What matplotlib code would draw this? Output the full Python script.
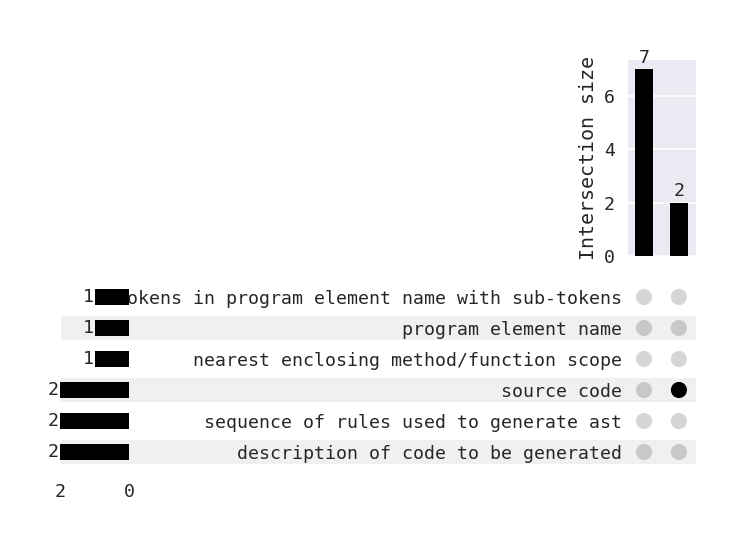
import matplotlib.pyplot as plt
import matplotlib.patches as mpatches

# rows listed bottom -> top
categories = [
    "description of code to be generated",
    "sequence of rules used to generate ast",
    "source code",
    "nearest enclosing method/function scope",
    "program element name",
    "tokens in program element name with sub-tokens",
]
set_totals = [2, 2, 2, 1, 1, 1]
intersection_sizes = [7, 2]
# membership per intersection (index into categories)
memberships = [[], ["source code"]]

W, H = 755, 533
plt.rcParams["font.family"] = ["DejaVu Sans Mono"]
text_color = "#262626"
fig = plt.figure(figsize=(W / 100, H / 100), dpi=100)


def px_axes(x0, y0, x1, y1):
    # pixel box (top-left origin) -> figure axes
    return fig.add_axes([x0 / W, 1 - y1 / H, (x1 - x0) / W, (y1 - y0) / H])


row_top, row_step = 297, 31
n_rows = len(categories)
mat_y0 = row_top - row_step / 2
mat_y1 = row_top + (n_rows - 1) * row_step + row_step / 2

# shading stripes for alternate rows
for i in range(0, n_rows, 2):
    yc = row_top + (n_rows - 1 - i) * row_step
    rect = mpatches.Rectangle((61 / W, 1 - (yc + 12) / H), (696 - 61) / W, 24 / H,
                              transform=fig.transFigure, facecolor="#f0f0f0",
                              edgecolor="none", zorder=-1)
    fig.patches.append(rect)

# intersection bars
ax_bar = px_axes(628, 60, 696, 256)
ax_bar.set_facecolor("#EAEAF2")
xs = list(range(len(intersection_sizes)))
ax_bar.bar(xs, intersection_sizes, width=0.5, color="black", zorder=3)
for x, v in zip(xs, intersection_sizes):
    ax_bar.text(x, v + 0.1, str(v), ha="center", va="bottom", fontsize=13.15, color=text_color)
ax_bar.set_xlim(-0.46, 1.49)
ax_bar.set_ylim(0, 7.35)
ax_bar.set_yticks([0, 2, 4, 6])
ax_bar.set_xticks([])
ax_bar.grid(axis="y", color="white", linewidth=1.2, zorder=0)
ax_bar.set_axisbelow(True)
for s in ax_bar.spines.values():
    s.set_visible(False)
ax_bar.tick_params(axis="y", length=0, pad=9.5, labelsize=13.15, labelcolor=text_color)
ax_bar.set_ylabel("Intersection size", fontsize=14.4, color=text_color, labelpad=4)

# matrix of dots
ax_mat = px_axes(628, mat_y0, 696, mat_y1)
ax_mat.patch.set_alpha(0)
ax_mat.set_xlim(-0.46, 1.49)
ax_mat.set_ylim(-0.5, n_rows - 0.5)
for x, members in enumerate(memberships):
    for i, cat in enumerate(categories):
        if cat in members:
            c = "black"
        else:
            c = "#c8c8c8" if i % 2 == 0 else "#d6d6d6"
        ax_mat.scatter(x, i, s=135, color=c, edgecolors="none", zorder=3)
ax_mat.set_yticks(range(n_rows))
ax_mat.set_yticklabels(categories)
ax_mat.set_xticks([])
ax_mat.tick_params(axis="y", length=0, pad=4.2, labelsize=13.15, labelcolor=text_color)
for s in ax_mat.spines.values():
    s.set_visible(False)

# set totals (drawn over the long row label, as in the original)
ax_tot = px_axes(60, mat_y0, 129, mat_y1)
ax_tot.patch.set_alpha(0)
ax_tot.barh(range(n_rows), set_totals, height=0.5, color="black", zorder=3)
for i, v in enumerate(set_totals):
    ax_tot.text(v + 0.03, i, str(v), ha="right", va="center", fontsize=13.15, color=text_color)
ax_tot.set_xlim(2, 0)
ax_tot.set_ylim(-0.5, n_rows - 0.5)
ax_tot.set_yticks([])
ax_tot.set_xticks([2, 0])
ax_tot.tick_params(axis="x", length=0, pad=11.5, labelsize=13.15, labelcolor=text_color)
for s in ax_tot.spines.values():
    s.set_visible(False)

fig.savefig("out.png", dpi=100)
